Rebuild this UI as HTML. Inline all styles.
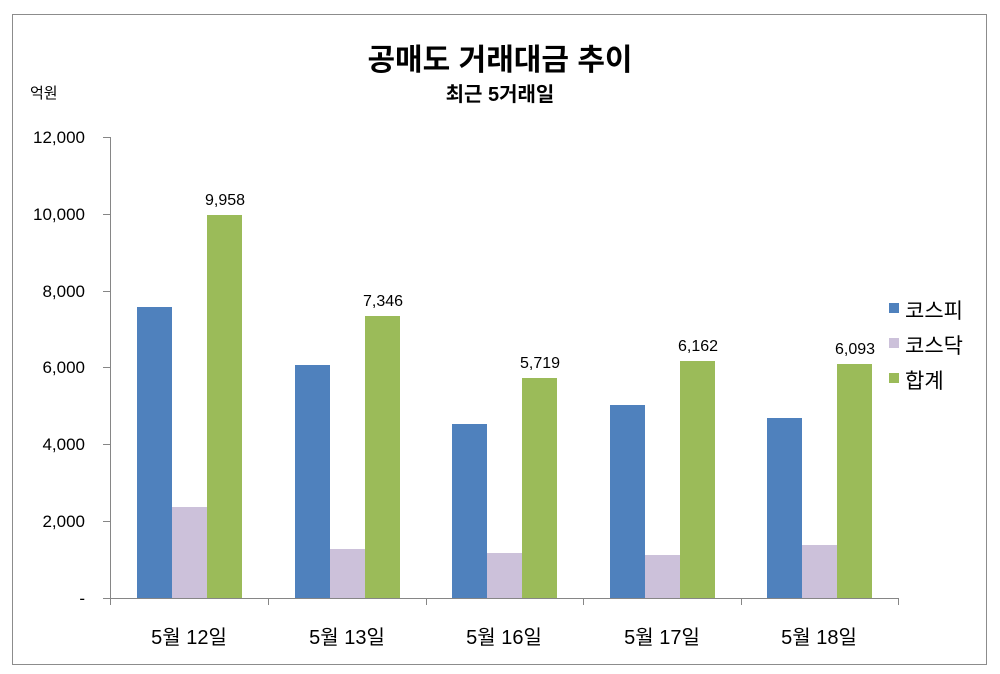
<!DOCTYPE html>
<html><head><meta charset="utf-8"><style>
body{margin:0;background:#fff;}
svg{display:block;font-family:"Liberation Sans","Noto Sans CJK KR",sans-serif;}
</style></head><body>
<svg width="1000" height="674" xmlns="http://www.w3.org/2000/svg">
<rect x="12.5" y="14.5" width="974" height="650" fill="#fff" stroke="#8c8c8c" stroke-width="1"/>
<text x="500" y="70" text-anchor="middle" font-size="30" font-weight="bold">공매도 거래대금 추이</text>
<text x="500" y="101" text-anchor="middle" font-size="20" font-weight="bold">최근 5거래일</text>
<text x="30" y="98" font-size="15">억원</text>
<g stroke="#868686" stroke-width="1">
<line x1="110.5" y1="137" x2="110.5" y2="605"/>
<line x1="103" y1="598.5" x2="898" y2="598.5"/>
<line x1="103" y1="521.5" x2="110" y2="521.5"/>
<line x1="103" y1="444.5" x2="110" y2="444.5"/>
<line x1="103" y1="367.5" x2="110" y2="367.5"/>
<line x1="103" y1="291.5" x2="110" y2="291.5"/>
<line x1="103" y1="214.5" x2="110" y2="214.5"/>
<line x1="103" y1="137.5" x2="110" y2="137.5"/>
<line x1="268.5" y1="598" x2="268.5" y2="605"/>
<line x1="426.5" y1="598" x2="426.5" y2="605"/>
<line x1="583.5" y1="598" x2="583.5" y2="605"/>
<line x1="741.5" y1="598" x2="741.5" y2="605"/>
<line x1="898.5" y1="598" x2="898.5" y2="605"/>
</g>
<g font-size="17" text-anchor="end">
<text x="85" y="604">-</text>
<text x="85" y="527">2,000</text>
<text x="85" y="450">4,000</text>
<text x="85" y="373">6,000</text>
<text x="85" y="297">8,000</text>
<text x="85" y="220">10,000</text>
<text x="85" y="143">12,000</text>
</g>
<g>
<rect x="137" y="307" width="35" height="291" fill="#4F81BD"/>
<rect x="172" y="507" width="35" height="91" fill="#CCC1DA"/>
<rect x="207" y="215" width="35" height="383" fill="#9BBB59"/>
<rect x="295" y="365" width="35" height="233" fill="#4F81BD"/>
<rect x="330" y="549" width="35" height="49" fill="#CCC1DA"/>
<rect x="365" y="316" width="35" height="282" fill="#9BBB59"/>
<rect x="452" y="424" width="35" height="174" fill="#4F81BD"/>
<rect x="487" y="553" width="35" height="45" fill="#CCC1DA"/>
<rect x="522" y="378" width="35" height="220" fill="#9BBB59"/>
<rect x="610" y="405" width="35" height="193" fill="#4F81BD"/>
<rect x="645" y="555" width="35" height="43" fill="#CCC1DA"/>
<rect x="680" y="361" width="35" height="237" fill="#9BBB59"/>
<rect x="767" y="418" width="35" height="180" fill="#4F81BD"/>
<rect x="802" y="545" width="35" height="53" fill="#CCC1DA"/>
<rect x="837" y="364" width="35" height="234" fill="#9BBB59"/>
</g>
<g font-size="16" text-anchor="middle">
<text x="225" y="205">9,958</text>
<text x="383" y="306">7,346</text>
<text x="540" y="368">5,719</text>
<text x="698" y="351">6,162</text>
<text x="855" y="354">6,093</text>
</g>
<g font-size="20" text-anchor="middle">
<text x="189" y="644">5월 12일</text>
<text x="347" y="644">5월 13일</text>
<text x="504" y="644">5월 16일</text>
<text x="662" y="644">5월 17일</text>
<text x="819" y="644">5월 18일</text>
</g>
<rect x="889" y="303" width="10" height="10" fill="#4F81BD"/>
<rect x="889" y="338" width="10" height="10" fill="#CCC1DA"/>
<rect x="889" y="373" width="10" height="10" fill="#9BBB59"/>
<g font-size="21">
<text x="905" y="318">코스피</text>
<text x="905" y="353">코스닥</text>
<text x="905" y="388">합계</text>
</g>
</svg>
</body></html>
